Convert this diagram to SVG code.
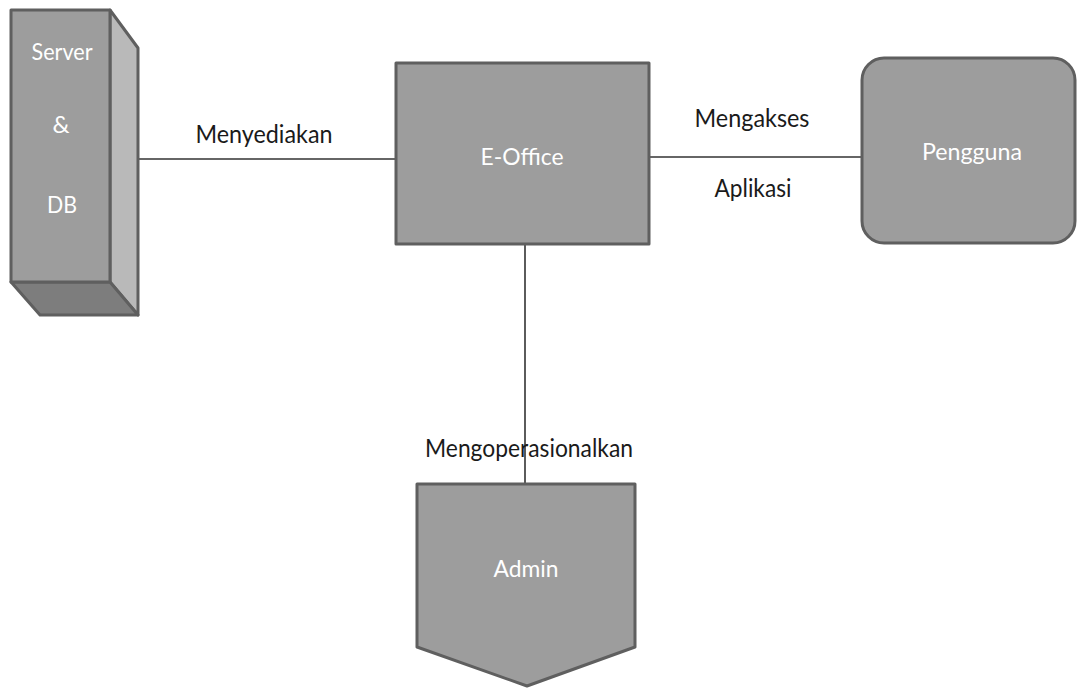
<svg xmlns="http://www.w3.org/2000/svg" width="1078" height="688" viewBox="0 0 1078 688">
<style>
.shape{fill:#9d9d9d;stroke:#5f5f5f;stroke-width:3;stroke-linejoin:round}
.side{fill:#b9b9b9;stroke:#5f5f5f;stroke-width:3;stroke-linejoin:round}
.bottom{fill:#7d7d7d;stroke:#5f5f5f;stroke-width:3;stroke-linejoin:round}
.in{font-family:Lato,"Open Sans",sans-serif;font-size:24px;fill:#ffffff}
.lbl{font-family:Lato,"Open Sans",sans-serif;font-size:25px;fill:#1a1a1a}
.conn{stroke:#333;stroke-width:1.6;fill:none}
</style>
<rect width="1078" height="688" fill="#ffffff"/>
<g id="connectors">
<line class="conn" x1="138" y1="159" x2="397" y2="159"/>
<line class="conn" x1="649" y1="157" x2="862" y2="157"/>
<line class="conn" x1="525" y1="244" x2="525" y2="485"/>
</g>
<g id="server-db">
<polygon class="side" points="110,10 138,48 138,315 110,282"/>
<polygon class="bottom" points="11,282 110,282 138,315 40,315"/>
<rect class="shape" x="11" y="10" width="99" height="272"/>
<text class="in" x="62" y="60" text-anchor="middle" textLength="61" lengthAdjust="spacingAndGlyphs">Server</text>
<text class="in" x="61" y="133" text-anchor="middle">&amp;</text>
<text class="in" x="62" y="213" text-anchor="middle" textLength="30" lengthAdjust="spacingAndGlyphs">DB</text>
</g>
<g id="e-office">
<rect class="shape" x="396" y="63" width="253" height="181"/>
<text class="in" x="522" y="165" text-anchor="middle" textLength="83" lengthAdjust="spacingAndGlyphs">E-Office</text>
</g>
<g id="pengguna">
<rect class="shape" x="862" y="58" width="213" height="185" rx="22" ry="22"/>
<text class="in" x="972" y="160" text-anchor="middle" textLength="100" lengthAdjust="spacingAndGlyphs">Pengguna</text>
</g>
<g id="admin">
<polygon class="shape" points="417,484 635,484 635,647 527,686 417,647"/>
<text class="in" x="526" y="577" text-anchor="middle" textLength="65" lengthAdjust="spacingAndGlyphs">Admin</text>
</g>
<g id="labels">
<text class="lbl" x="264" y="143" text-anchor="middle" textLength="137" lengthAdjust="spacingAndGlyphs">Menyediakan</text>
<text class="lbl" x="752" y="127" text-anchor="middle" textLength="115" lengthAdjust="spacingAndGlyphs">Mengakses</text>
<text class="lbl" x="753" y="197" text-anchor="middle" textLength="77" lengthAdjust="spacingAndGlyphs">Aplikasi</text>
<text class="lbl" x="529" y="457" text-anchor="middle" textLength="208" lengthAdjust="spacingAndGlyphs">Mengoperasionalkan</text>
</g>
</svg>
